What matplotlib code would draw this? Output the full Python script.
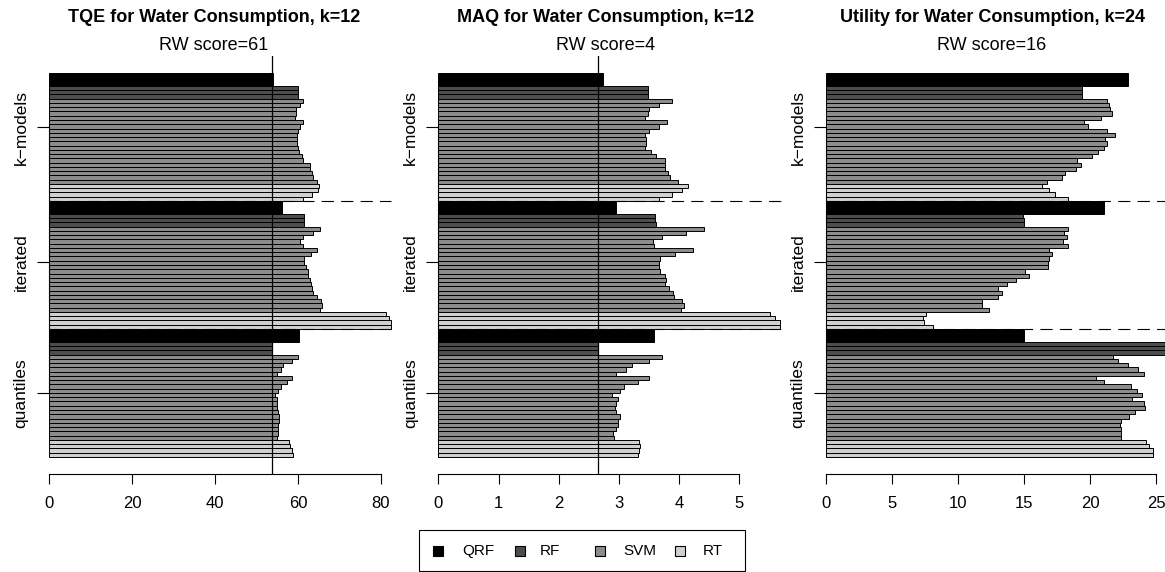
import matplotlib
matplotlib.use("Agg")
import matplotlib.pyplot as plt
from matplotlib.patches import Rectangle

plt.rcParams['font.family'] = ['Liberation Sans', 'DejaVu Sans']

FW, FH = 1165, 572

# ---------------- data ----------------
groups = ["k\u2212models", "iterated", "quantiles"]
methods = ["QRF", "RF", "SVM", "RT"]
method_colors = ["#000000", "#4d4d4d", "#8c8c8c", "#d0d0d0"]
method_counts = [1, 3, 20, 4]

titles = ["TQE for Water Consumption, k=12",
          "MAQ for Water Consumption, k=12",
          "Utility for Water Consumption, k=24"]
subtitles = ["RW score=61", "RW score=4", "RW score=16"]
ref_lines = [53.8, 2.65, None]
x_ticks = [[0, 20, 40, 60, 80], [0, 1, 2, 3, 4, 5], [0, 5, 10, 15, 20, 25]]

# each group: QRF, RF x3, SVM x20, RT x4
tqe_kmodels = [54.0,
               60.0, 60.0, 60.0,
               61.3, 60.5, 59.6, 59.4, 59.3, 61.1, 60.5, 60.0, 59.7, 59.7,
               59.7, 60.1, 60.3, 61.0, 61.3, 62.9, 63.0, 63.3, 63.7, 64.5,
               65.1, 64.9, 63.3, 61.3]
tqe_iterated = [56.2,
                61.4, 61.4, 61.5,
                65.3, 63.7, 61.2, 60.5, 61.1, 64.5, 63.1, 61.4, 61.5, 61.9,
                62.3, 62.5, 62.9, 63.1, 63.3, 63.7, 64.5, 65.5, 65.7, 65.3,
                81.2, 82.0, 82.3, 82.3]
tqe_quantiles = [60.3,
                 53.8, 53.8, 53.8,
                 59.9, 58.5, 56.5, 55.9, 54.9, 58.6, 57.3, 55.8, 55.3, 54.5,
                 55.0, 54.9, 54.9, 55.3, 55.5, 55.5, 55.3, 55.3, 55.1, 55.0,
                 57.9, 58.1, 58.5, 58.9]

maq_kmodels = [2.73,
               3.48, 3.48, 3.48,
               3.89, 3.67, 3.50, 3.48, 3.44, 3.80, 3.67, 3.50, 3.44, 3.45,
               3.45, 3.44, 3.54, 3.62, 3.76, 3.76, 3.77, 3.81, 3.85, 3.99,
               4.14, 4.05, 3.89, 3.67]
maq_iterated = [2.95,
                3.60, 3.60, 3.61,
                4.41, 4.12, 3.72, 3.57, 3.58, 4.23, 3.94, 3.68, 3.66, 3.67,
                3.68, 3.76, 3.79, 3.77, 3.83, 3.90, 3.92, 4.05, 4.08, 4.03,
                5.51, 5.60, 5.68, 5.68]
maq_quantiles = [3.58,
                 2.65, 2.65, 2.65,
                 3.71, 3.50, 3.21, 3.12, 2.95, 3.50, 3.32, 3.09, 3.01, 2.88,
                 2.98, 2.95, 2.93, 2.95, 3.01, 2.99, 2.98, 2.95, 2.90, 2.92,
                 3.34, 3.35, 3.34, 3.31]

util_kmodels = [22.9,
                19.37, 19.37, 19.42,
                21.26, 21.41, 21.52, 21.64, 20.83, 19.57, 19.87, 21.26, 21.89, 21.14,
                21.26, 21.09, 20.58, 20.13, 19.04, 19.29, 18.94, 18.11, 17.85, 16.77,
                16.34, 16.92, 17.37, 18.31]
util_iterated = [21.09,
                 14.95, 15.00, 15.03,
                 18.31, 18.06, 18.23, 17.98, 18.31, 16.87, 17.15, 16.87, 16.79, 16.79,
                 15.08, 15.38, 14.37, 13.69, 13.06, 13.36, 13.06, 11.84, 11.79, 12.37,
                 7.58, 7.32, 7.42, 8.08]
util_quantiles = [15.03,
                  26.0, 26.0, 26.0,
                  21.72, 22.15, 22.90, 23.61, 24.09, 20.43, 21.06, 23.08, 23.54, 23.91,
                  23.21, 24.09, 24.17, 23.38, 22.95, 22.37, 22.27, 22.37, 22.37, 22.37,
                  24.24, 24.49, 24.80, 24.80]

panels = [[tqe_kmodels, tqe_iterated, tqe_quantiles],
          [maq_kmodels, maq_iterated, maq_quantiles],
          [util_kmodels, util_iterated, util_quantiles]]

# ---------------- layout (pixels) ----------------
panel_x0 = [49.0, 438.3, 826.0]      # pixel of value 0
panel_scale = [4.15, 60.2, 13.2]     # pixels per unit
panel_w = 334.0
dash_end_px = [391.0, 784.0, 1180.0]
title_cx = [214.0, 606.0, 992.0]
top_px, bot_px = 56.0, 474.0
group_size = 30
y_tick_pos = [12.66, 44.36, 75.0]


def fx(x):
    return x / FW


def fy(y):
    return 1 - y / FH


fig = plt.figure(figsize=(FW / 100, FH / 100), dpi=100)

for p in range(3):
    x0, s = panel_x0[p], panel_scale[p]
    ax = fig.add_axes([fx(x0), fy(bot_px), panel_w / FW, (bot_px - top_px) / FH])
    ax.set_xlim(0, panel_w / s)
    ax.set_ylim(94, -4)
    for g in range(3):
        vals = panels[p][g]
        pos = group_size * g
        k = 0
        for m, cnt in enumerate(method_counts):
            for j in range(cnt):
                h = 3 if m == 0 else 1
                ax.barh(pos + h / 2, vals[k], height=h, left=0,
                        color=method_colors[m], edgecolor='black',
                        linewidth=0.7, clip_on=False, zorder=2)
                pos += h
                k += 1
    dash_end = (dash_end_px[p] - x0) / s
    for yb in (group_size, 2 * group_size):
        ax.plot([0, dash_end], [yb, yb], color='black', lw=0.8,
                ls=(0, (11, 6.5)), clip_on=False, zorder=3)
    if ref_lines[p] is not None:
        ax.axvline(ref_lines[p], color='black', lw=0.9, zorder=3)

    for side in ('top', 'right'):
        ax.spines[side].set_visible(False)
    ax.spines['left'].set_bounds(y_tick_pos[0], y_tick_pos[-1])
    ax.spines['bottom'].set_bounds(x_ticks[p][0], x_ticks[p][-1])
    ax.spines['left'].set_linewidth(0.8)
    ax.spines['bottom'].set_linewidth(0.8)
    ax.set_xticks(x_ticks[p])
    ax.set_xticklabels([str(t) for t in x_ticks[p]])
    ax.set_yticks(y_tick_pos)
    ax.set_yticklabels(groups, rotation=90, va='center')
    ax.tick_params(axis='x', length=7.2, width=0.8, pad=9, labelsize=12)
    ax.tick_params(axis='y', length=8.6, width=0.8, pad=6, labelsize=12.5)
    ax.patch.set_alpha(0)

    fig.text(fx(title_cx[p]), fy(18), titles[p], fontsize=13, weight='bold',
             ha='center', va='center')
    fig.text(fx(title_cx[p]), fy(45), subtitles[p], fontsize=13,
             ha='center', va='center')

# ---------------- legend ----------------
fig.patches.append(Rectangle((fx(419), fy(571)), (745 - 419) / FW, (571 - 530) / FH,
                             transform=fig.transFigure, fill=False,
                             edgecolor='black', linewidth=0.8))
sq_x = [433, 515, 595, 675]
txt_x = [462, 540, 623, 703]
ly = 551
for i, name in enumerate(methods):
    fig.patches.append(Rectangle((fx(sq_x[i]), fy(ly + 5)), 10 / FW, 10 / FH,
                                 transform=fig.transFigure,
                                 facecolor=method_colors[i], edgecolor='black',
                                 linewidth=0.8))
    fig.text(fx(txt_x[i]), fy(ly), name, fontsize=11, ha='left', va='center')

fig.savefig("out.png", dpi=100)
